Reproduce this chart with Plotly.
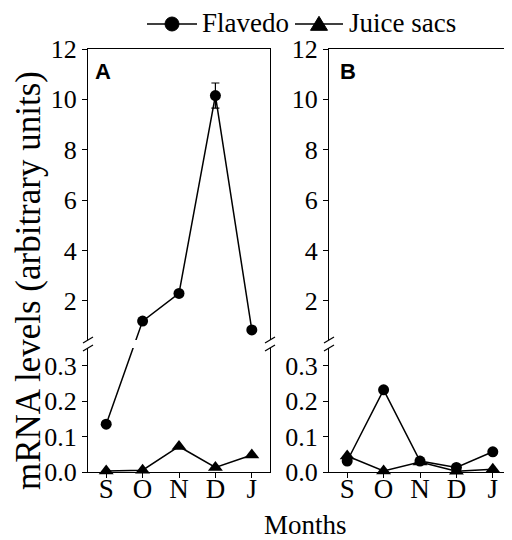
import plotly.graph_objects as go

months = ["S", "O", "N", "D", "J"]
flavedo_A = [0.135, 1.2, 2.3, 10.15, 0.85]
flavedo_A_err = [0, 0, 0, 0.5, 0]
juice_A = [0.003, 0.005, 0.072, 0.013, 0.048]
flavedo_B = [0.031, 0.232, 0.031, 0.013, 0.057]
juice_B = [0.045, 0.003, 0.028, 0.002, 0.008]
series_names = ["Flavedo", "Juice sacs"]

top_ticks = [2, 4, 6, 8, 10, 12]
bot_ticks = [0.0, 0.1, 0.2, 0.3]

# layout geometry (screen pixels; page body has an 8px margin)
OFF = 8
W, HGT = 512, 540
PL, PR, PT, PB = 88, 511, 49, 472          # plot area in screen px
ml, mr, mt, mb = PL - OFF, W - (PR - OFF), PT - OFF, HGT - (PB - OFF)
PW, PH = W - ml - mr, HGT - mt - mb

def px2paper_x(px):
    return (px - PL) / PW

def px2paper_y(py):
    return (PB - py) / PH

dA = [0, px2paper_x(270)]
dB = [px2paper_x(329), 1]
bot_dom = [0, px2paper_y(348)]
top_dom = [px2paper_y(340), 1]
bot_rng = [0, 0.35]
top_rng = [0.45, 12]

def bot_to_paper(v):
    return (v - bot_rng[0]) / (bot_rng[1] - bot_rng[0]) * (bot_dom[1] - bot_dom[0]) + bot_dom[0]

def top_to_paper(v):
    return (v - top_rng[0]) / (top_rng[1] - top_rng[0]) * (top_dom[1] - top_dom[0]) + top_dom[0]

def paper_to_bot(f):
    return (f - bot_dom[0]) / (bot_dom[1] - bot_dom[0]) * (bot_rng[1] - bot_rng[0]) + bot_rng[0]

def paper_to_top(f):
    return (f - top_dom[0]) / (top_dom[1] - top_dom[0]) * (top_rng[1] - top_rng[0]) + top_rng[0]

def split(vals):
    """Values expressed in bottom-axis units and in top-axis units (same pixel position)."""
    in_bot, in_top = [], []
    for v in vals:
        if v <= bot_rng[1]:
            in_bot.append(v)
            in_top.append(paper_to_top(bot_to_paper(v)))
        else:
            in_top.append(v)
            in_bot.append(paper_to_bot(top_to_paper(v)))
    return in_bot, in_top

FONT = "Liberation Serif"
fig = go.Figure()
line = dict(color="black", width=1.5)
circ = dict(symbol="circle", size=11, color="black")
tri = dict(symbol="triangle-up", size=13, color="black")

fA_bot, fA_top = split(flavedo_A)
fig.add_trace(go.Scatter(x=months, y=fA_bot, mode="lines", line=line, xaxis="x", yaxis="y",
                         hoverinfo="skip"))
fig.add_trace(go.Scatter(x=months, y=fA_top, mode="lines", line=line, xaxis="x3", yaxis="y3",
                         hoverinfo="skip"))
fig.add_trace(go.Scatter(x=months, y=[v if v <= bot_rng[1] else None for v in flavedo_A],
                         mode="markers", marker=circ, xaxis="x", yaxis="y",
                         name=series_names[0], cliponaxis=False))
fig.add_trace(go.Scatter(x=months, y=[v if v > bot_rng[1] else None for v in flavedo_A],
                         mode="markers", marker=circ, xaxis="x3", yaxis="y3",
                         error_y=dict(type="data", array=flavedo_A_err, color="black",
                                      thickness=1.2, width=4),
                         name=series_names[0], cliponaxis=False))
fig.add_trace(go.Scatter(x=months, y=juice_A, mode="lines+markers", line=line, marker=tri,
                         xaxis="x", yaxis="y", name=series_names[1], cliponaxis=False))
fig.add_trace(go.Scatter(x=months, y=flavedo_B, mode="lines+markers", line=line, marker=circ,
                         xaxis="x2", yaxis="y2", name=series_names[0], cliponaxis=False))
fig.add_trace(go.Scatter(x=months, y=juice_B, mode="lines+markers", line=line, marker=tri,
                         xaxis="x2", yaxis="y2", name=series_names[1], cliponaxis=False))
fig.add_trace(go.Scatter(x=months, y=[None] * 5, xaxis="x4", yaxis="y4", hoverinfo="skip"))

tickfont = dict(family=FONT, size=26, color="black")
xcommon = dict(range=[-0.5, 4.5], showline=True, linecolor="black", linewidth=1,
               showgrid=False, zeroline=False, fixedrange=True,
               categoryorder="array", categoryarray=months)
xb = dict(xcommon, ticks="outside", ticklen=5, tickcolor="black",
          tickfont=dict(family=FONT, size=27, color="black"), ticklabelstandoff=-12)
xt = dict(xcommon, side="top", showticklabels=False, ticks="")
ycommon = dict(showline=True, linecolor="black", linewidth=1, mirror=True, showgrid=False,
               zeroline=False, ticks="outside", ticklen=5, tickcolor="black", tickfont=tickfont)

fig.update_layout(
    width=W, height=HGT,
    margin=dict(l=ml, r=mr, t=mt, b=mb, autoexpand=False),
    paper_bgcolor="white", plot_bgcolor="white",
    font=dict(family=FONT, color="black"),
    showlegend=False,
    xaxis=dict(xb, domain=dA, anchor="y"),
    xaxis2=dict(xb, domain=dB, anchor="y2"),
    xaxis3=dict(xt, domain=dA, anchor="y3"),
    xaxis4=dict(xt, domain=dB, anchor="y4"),
    yaxis=dict(ycommon, domain=bot_dom, range=bot_rng, tickvals=bot_ticks,
               ticktext=[f"{t:.1f}" for t in bot_ticks], anchor="x"),
    yaxis2=dict(ycommon, domain=bot_dom, range=bot_rng, tickvals=bot_ticks,
                ticktext=[f"{t:.1f}" for t in bot_ticks], anchor="x2"),
    yaxis3=dict(ycommon, domain=top_dom, range=top_rng, tickvals=top_ticks, anchor="x3"),
    yaxis4=dict(ycommon, domain=top_dom, range=top_rng, tickvals=top_ticks, anchor="x4"),
)

shapes = []
# axis break marks
for sx in [PL, 270, 329, PR]:
    for ypx in [340, 348]:
        shapes.append(dict(type="line", xref="paper", yref="paper",
                           x0=px2paper_x(sx - 5), y0=px2paper_y(ypx + 3),
                           x1=px2paper_x(sx + 5), y1=px2paper_y(ypx - 3),
                           line=dict(color="black", width=1.2)))

# manual legend (line - marker - line, then label)
LY = 24
legend_items = [(147, 197, "circle", series_names[0], 200),
                (295, 343, "triangle", series_names[1], 347)]
for x0, x1, sym, name, tx in legend_items:
    shapes.append(dict(type="line", xref="paper", yref="paper",
                       x0=px2paper_x(x0), x1=px2paper_x(x1), y0=px2paper_y(LY), y1=px2paper_y(LY),
                       line=dict(color="black", width=1.5)))
    cx = (x0 + x1) / 2
    if sym == "circle":
        r = 7
        shapes.append(dict(type="circle", xref="paper", yref="paper",
                           x0=px2paper_x(cx - r), x1=px2paper_x(cx + r),
                           y0=px2paper_y(LY + r), y1=px2paper_y(LY - r),
                           fillcolor="black", line=dict(color="black", width=1)))
    else:
        hw, h = 8.5, 14
        pts = [(cx - hw, LY + h * 0.45), (cx + hw, LY + h * 0.45), (cx, LY - h * 0.55)]
        path = "M " + " L ".join(f"{px2paper_x(a)},{px2paper_y(b)}" for a, b in pts) + " Z"
        shapes.append(dict(type="path", xref="paper", yref="paper", path=path,
                           fillcolor="black", line=dict(color="black", width=1)))
    fig.add_annotation(text=name, xref="paper", yref="paper", x=px2paper_x(tx), y=px2paper_y(LY - 1),
                       xanchor="left", yanchor="middle", showarrow=False,
                       font=dict(family=FONT, size=27, color="black"))
fig.update_layout(shapes=shapes)

fig.add_annotation(text="mRNA levels (arbitrary units)", textangle=-90, xref="paper", yref="paper",
                   x=px2paper_x(28), y=px2paper_y(281), xanchor="center", yanchor="middle",
                   showarrow=False, font=dict(family=FONT, size=35, color="black"))
fig.add_annotation(text="Months", xref="paper", yref="paper", x=px2paper_x(305), y=px2paper_y(525),
                   xanchor="center", yanchor="middle",
                   showarrow=False, font=dict(family=FONT, size=27, color="black"))
for lab, xp in [("A", 93), ("B", 338)]:
    fig.add_annotation(text=f"<b>{lab}</b>", xref="paper", yref="paper", x=px2paper_x(xp),
                       y=px2paper_y(57), xanchor="left", yanchor="top", showarrow=False,
                       font=dict(family="Liberation Sans", size=22, color="black"))

fig.write_html("out.html")
